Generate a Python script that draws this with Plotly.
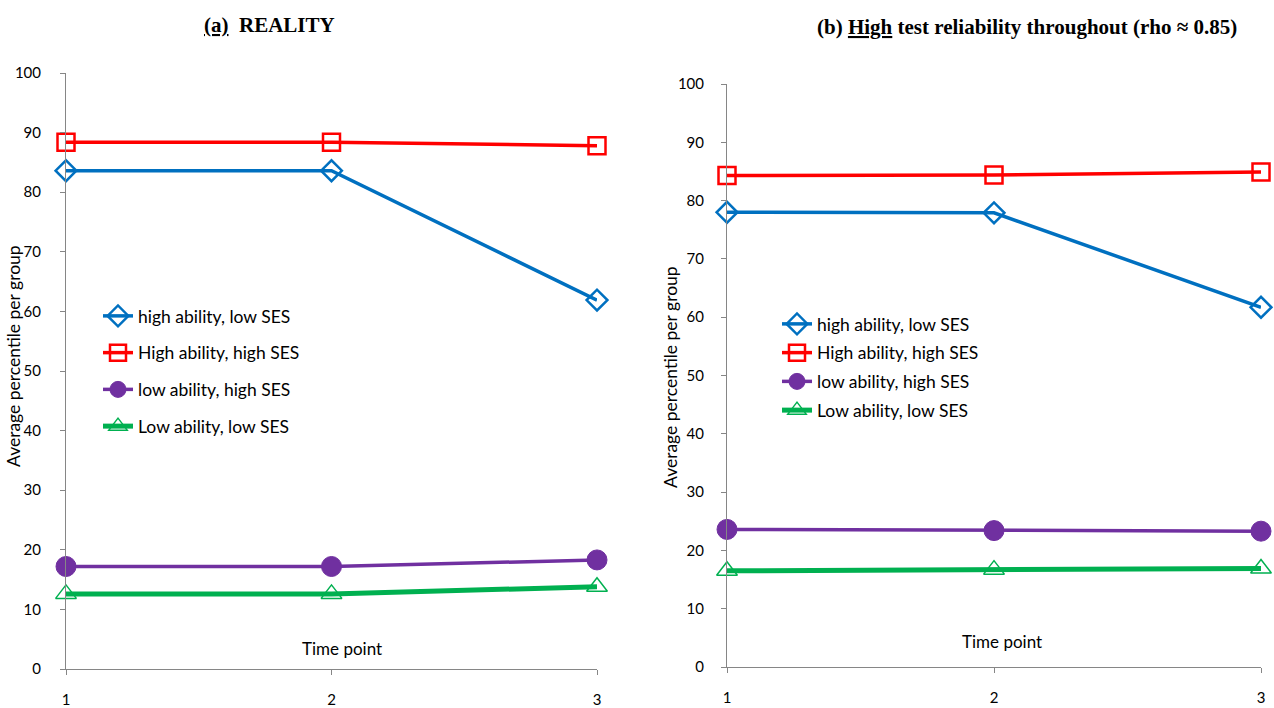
import plotly.graph_objects as go

time_points = [1, 2, 3]
series_names = ["high ability, low SES", "High ability, high SES", "low ability, high SES", "Low ability, low SES"]

# Panel (a) REALITY
a_high_ab_low_ses = [83.6, 83.6, 61.9]
a_high_ab_high_ses = [88.4, 88.4, 87.8]
a_low_ab_high_ses = [17.2, 17.2, 18.3]
a_low_ab_low_ses = [12.6, 12.6, 13.8]

# Panel (b) High test reliability
b_high_ab_low_ses = [78.0, 77.9, 61.7]
b_high_ab_high_ses = [84.3, 84.4, 84.9]
b_low_ab_high_ses = [23.6, 23.4, 23.3]
b_low_ab_low_ses = [16.5, 16.7, 16.9]

y_ticks = list(range(0, 101, 10))

FONT = "Lato"
styles = [
    dict(color="#0070C0", width=3.5, symbol="diamond-open", size=16, mlw=2.5),
    dict(color="#FF0000", width=3.5, symbol="square-open", size=17, mlw=2.5),
    dict(color="#7030A0", width=3.5, symbol="circle", size=20, mlw=1),
    dict(color="#00B050", width=5, symbol="triangle-up-open", size=18, mlw=1.5),
]

fig = go.Figure()

def add_panel(data, xa, ya, legend):
    for name, vals, st in zip(series_names, data, styles):
        fig.add_trace(go.Scatter(
            x=time_points, y=vals, name=name, mode="lines+markers",
            line=dict(color=st["color"], width=st["width"]),
            marker=dict(symbol=st["symbol"], size=st["size"], color=st["color"],
                        line=dict(color=st["color"], width=st["mlw"])),
            xaxis=xa, yaxis=ya, legend=legend, legendgroup=legend + name,
            cliponaxis=False,
        ))

add_panel([a_high_ab_low_ses, a_high_ab_high_ses, a_low_ab_high_ses, a_low_ab_low_ses], "x", "y", "legend")
add_panel([b_high_ab_low_ses, b_high_ab_high_ses, b_low_ab_high_ses, b_low_ab_low_ses], "x2", "y2", "legend2")

axis_common = dict(showgrid=False, zeroline=False, showline=True, linecolor="#868686",
                   linewidth=1, ticks="outside", ticklen=5, tickcolor="#868686", automargin=False,
                   tickfont=dict(family=FONT, size=15, color="#000000"))

fig.update_layout(
    width=1274, height=708,
    margin=dict(l=0, r=0, t=0, b=0, autoexpand=False),
    paper_bgcolor="white", plot_bgcolor="white",
    showlegend=True,
    xaxis=dict(domain=[66/1274, 597/1274], range=[1, 3], tickvals=time_points,
               ticklabelstandoff=12, anchor="y", **axis_common),
    yaxis=dict(domain=[(708-669)/708, (708-73)/708], range=[0, 100], tickvals=y_ticks,
               ticklabelstandoff=16, anchor="x", **axis_common),
    xaxis2=dict(domain=[727/1274, 1261/1274], range=[1, 3], tickvals=time_points,
                ticklabelstandoff=12, anchor="y2", **axis_common),
    yaxis2=dict(domain=[(708-667)/708, (708-84)/708], range=[0, 100], tickvals=y_ticks,
                ticklabelstandoff=14, anchor="x2", **axis_common),
    legend=dict(x=98/1274, y=(708-298)/708, xanchor="left", yanchor="top",
                bgcolor="rgba(0,0,0,0)", font=dict(family=FONT, size=17.5, color="#000"),
                traceorder="grouped", tracegroupgap=11, itemwidth=30),
    legend2=dict(x=777/1274, y=(708-306)/708, xanchor="left", yanchor="top",
                 bgcolor="rgba(0,0,0,0)", font=dict(family=FONT, size=17.5, color="#000"),
                 traceorder="grouped", tracegroupgap=3, itemwidth=30),
)

ann_font = dict(family=FONT, size=17, color="#000")
fig.add_annotation(x=2.04, y=3.5, xref="x", yref="y", text="Time point", showarrow=False,
                   xanchor="center", yanchor="middle", font=ann_font)
fig.add_annotation(x=2.03, y=4.3, xref="x2", yref="y2", text="Time point", showarrow=False,
                   xanchor="center", yanchor="middle", font=ann_font)
yt_font = dict(family=FONT, size=17.5, color="#000")
fig.add_annotation(x=14/1274, y=(708-356)/708, xref="paper", yref="paper", text="Average percentile per group",
                   textangle=-90, showarrow=False, xanchor="center", yanchor="middle", font=yt_font)
fig.add_annotation(x=670/1274, y=(708-377)/708, xref="paper", yref="paper", text="Average percentile per group",
                   textangle=-90, showarrow=False, xanchor="center", yanchor="middle", font=yt_font)

title_font = dict(family="Liberation Serif", size=21, color="#000")
fig.add_annotation(x=269/1274, y=(708-25)/708, xref="paper", yref="paper", xanchor="center", yanchor="middle",
                   text="<b><u>(a)</u>  REALITY</b>", showarrow=False, font=title_font)
fig.add_annotation(x=1027/1274, y=(708-27)/708, xref="paper", yref="paper", xanchor="center", yanchor="middle",
                   text="<b>(b) <u>High</u> test reliability throughout (rho \u2248 0.85)</b>", showarrow=False,
                   font=title_font)

fig.write_html("out.html")
